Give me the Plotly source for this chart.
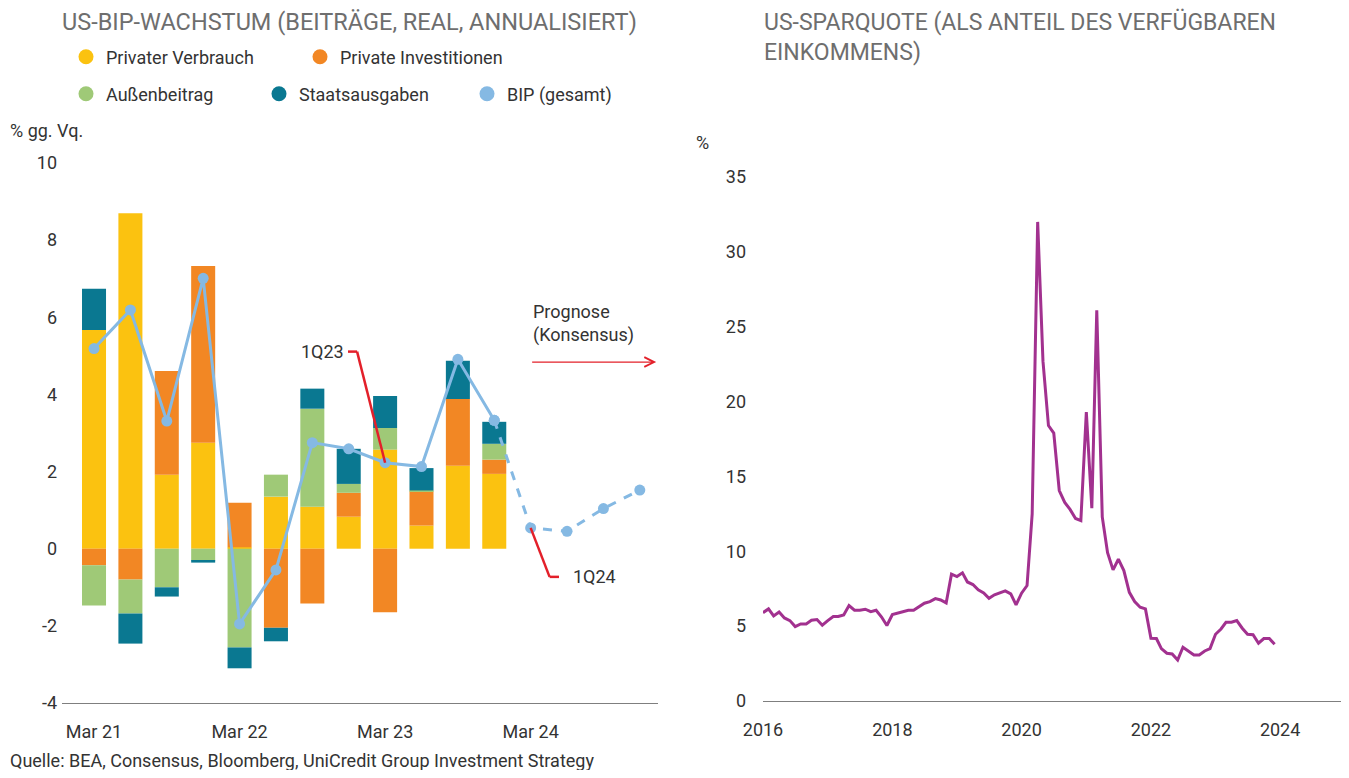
import pandas as pd
import plotly.graph_objects as go

# Seite hat 8px Rand, daher Figur etwas kleiner als das Fenster
W, H = 1349, 778
RAND = 8
FW, FH = W - 2 * RAND, H - 2 * RAND

# linke Grafik: Beiträge zum US-BIP-Wachstum (Prozentpunkte, annualisiert)
quartale = ["1Q21", "2Q21", "3Q21", "4Q21", "1Q22", "2Q22", "3Q22", "4Q22",
            "1Q23", "2Q23", "3Q23", "4Q23", "1Q24", "2Q24", "3Q24", "4Q24"]
tick_quartale = ["1Q21", "1Q22", "1Q23", "1Q24"]
tick_texte = ["Mar 21", "Mar 22", "Mar 23", "Mar 24"]
y_ticks_links = [-4, -2, 0, 2, 4, 6, 8, 10]

privater_verbrauch = [5.67, 8.70, 1.92, 2.75, 0.04, 1.35, 1.09, 0.83, 2.57, 0.60, 2.15, 1.94]
private_investitionen = [-0.43, -0.80, 2.69, 4.58, 1.15, -2.05, -1.42, 0.62, -1.65, 0.89, 1.73, 0.37]
aussenbeitrag = [-1.04, -0.88, -1.00, -0.31, -2.56, 0.57, 2.54, 0.23, 0.56, 0.02, 0.0, 0.41]
staatsausgaben = [1.07, -0.78, -0.24, -0.05, -0.54, -0.35, 0.52, 0.91, 0.83, 0.58, 0.99, 0.57]
bip_ist = [5.19, 6.19, 3.31, 7.01, -1.95, -0.55, 2.75, 2.59, 2.23, 2.13, 4.91, 3.33]
bip_prognose = [0.54, 0.45, 1.04, 1.52]

# rechte Grafik: US-Sparquote, monatlich ab Jan 2016
sparquote = [
    5.90, 6.15, 5.68, 5.95, 5.55, 5.37, 4.97, 5.15, 5.15, 5.39, 5.44, 5.06,
    5.37, 5.64, 5.64, 5.75, 6.37, 6.06, 6.06, 6.13, 5.97, 6.06, 5.61, 5.04,
    5.77, 5.86, 5.95, 6.06, 6.06, 6.30, 6.53, 6.64, 6.84, 6.75, 6.55, 8.47,
    8.31, 8.56, 7.95, 7.78, 7.42, 7.22, 6.86, 7.09, 7.24, 7.35, 7.15, 6.42,
    7.20, 7.71, 12.5, 32.0, 22.7, 18.4, 17.9, 14.06, 13.26, 12.8, 12.19, 12.05,
    19.3, 12.88, 26.1, 12.3, 9.9, 8.76, 9.47, 8.71, 7.26, 6.64, 6.26, 6.15,
    4.19, 4.17, 3.50, 3.19, 3.14, 2.74, 3.59, 3.30, 3.07, 3.07, 3.34, 3.50,
    4.46, 4.81, 5.26, 5.26, 5.37, 4.86, 4.46, 4.43, 3.86, 4.17, 4.17, 3.79,
]
monate = pd.date_range("2016-01-01", periods=len(sparquote), freq="MS")

GELB = "#fbc210"
ORANGE = "#f28724"
GRUEN = "#9fc977"
PETROL = "#0a7891"
HELLBLAU = "#85b9e3"
ROT = "#e3202a"
LILA = "#a2318f"
SCHRIFT = "Roboto"
TEXT = "#333333"
TITEL = "#6e6e6e"


def px(x):
    return min(max((x - RAND) / FW, 0), 1)


def py(y):
    return min(max(1 - (y - RAND) / FH, 0), 1)


fig = go.Figure()

balken = [("Privater Verbrauch", privater_verbrauch, GELB),
          ("Private Investitionen", private_investitionen, ORANGE),
          ("Außenbeitrag", aussenbeitrag, GRUEN),
          ("Staatsausgaben", staatsausgaben, PETROL)]
for name, werte, farbe in balken:
    fig.add_trace(go.Bar(x=quartale[:len(werte)], y=werte, name=name,
                         marker=dict(color=farbe, line_width=0),
                         showlegend=False, xaxis="x", yaxis="y"))

fig.add_trace(go.Scatter(x=quartale[:len(bip_ist)], y=bip_ist, mode="lines+markers",
                         line=dict(color=HELLBLAU, width=3),
                         marker=dict(color=HELLBLAU, size=11),
                         showlegend=False, xaxis="x", yaxis="y"))
fig.add_trace(go.Scatter(x=quartale[len(bip_ist) - 1:], y=[bip_ist[-1]] + bip_prognose,
                         mode="lines+markers",
                         line=dict(color=HELLBLAU, width=3, dash="dash"),
                         marker=dict(color=HELLBLAU, size=11),
                         showlegend=False, xaxis="x", yaxis="y"))

fig.add_trace(go.Scatter(x=monate, y=sparquote, mode="lines",
                         line=dict(color=LILA, width=3),
                         showlegend=False, xaxis="x2", yaxis="y2"))

# Legende als Kreise
legenden = [("Privater Verbrauch", GELB, "legend"),
            ("Private Investitionen", ORANGE, "legend"),
            ("Außenbeitrag", GRUEN, "legend2"),
            ("Staatsausgaben", PETROL, "legend2"),
            ("BIP (gesamt)", HELLBLAU, "legend3")]
for name, farbe, leg in legenden:
    fig.add_trace(go.Scatter(x=[None], y=[None], mode="markers", name=name,
                             marker=dict(color=farbe, size=15, symbol="circle"),
                             legend=leg, xaxis="x", yaxis="y"))

leg_font = dict(family=SCHRIFT, size=18, color=TEXT)
leg_basis = dict(orientation="h", font=leg_font, bgcolor="rgba(0,0,0,0)",
                 yanchor="middle", xanchor="left", itemclick=False,
                 entrywidthmode="pixels")

# Leitlinien für Beschriftungen
i23 = quartale.index("1Q23")
i24 = quartale.index("1Q24")
knick23 = bip_ist[i23] + 2.88
knick24 = bip_prognose[0] - 1.27
shapes = [
    dict(type="line", xref="x", yref="y", x0=i23, y0=bip_ist[i23], x1=i23 - 0.77, y1=knick23,
         line=dict(color=ROT, width=2.5)),
    dict(type="line", xref="x", yref="y", x0=i23 - 0.77, y0=knick23, x1=i23 - 1.02, y1=knick23,
         line=dict(color=ROT, width=2.5)),
    dict(type="line", xref="x", yref="y", x0=i24, y0=bip_prognose[0], x1=i24 + 0.52, y1=knick24,
         line=dict(color=ROT, width=2.5)),
    dict(type="line", xref="x", yref="y", x0=i24 + 0.52, y0=knick24, x1=i24 + 0.78, y1=knick24,
         line=dict(color=ROT, width=2.5)),
]

ann = [
    dict(text="US-BIP-WACHSTUM (BEITRÄGE, REAL, ANNUALISIERT)", x=px(60), y=py(22),
         xref="paper", yref="paper", xanchor="left", yanchor="middle", showarrow=False,
         font=dict(family=SCHRIFT, size=23.5, color=TITEL)),
    dict(text="US-SPARQUOTE (ALS ANTEIL DES VERFÜGBAREN<br>EINKOMMENS)", x=px(762), y=py(37),
         xref="paper", yref="paper", xanchor="left", yanchor="middle", align="left",
         showarrow=False, font=dict(family=SCHRIFT, size=23, color=TITEL)),
    dict(text="% gg. Vq.", x=px(8), y=py(130), xref="paper", yref="paper",
         xanchor="left", yanchor="middle", showarrow=False, font=leg_font),
    dict(text="%", x=px(703), y=py(142), xref="paper", yref="paper",
         xanchor="center", yanchor="middle", showarrow=False, font=leg_font),
    dict(text="Quelle: BEA, Consensus, Bloomberg, UniCredit Group Investment Strategy",
         x=px(8), y=py(760), xref="paper", yref="paper", xanchor="left", yanchor="middle",
         showarrow=False, font=dict(family=SCHRIFT, size=18, color=TEXT)),
    dict(text="1Q23", x=i23 - 1.08, y=knick23, xref="x", yref="y", xanchor="right",
         yanchor="middle", showarrow=False, font=leg_font),
    dict(text="1Q24", x=i24 + 1.12, y=knick24, xref="x", yref="y", xanchor="left",
         yanchor="middle", showarrow=False, font=leg_font),
    dict(text="Prognose<br>(Konsensus)", x=i24, y=5.2, xref="x", yref="y", xanchor="left",
         yanchor="bottom", align="left", showarrow=False, font=leg_font),
    dict(text="", x=15.45, y=4.84, ax=i24, ay=4.84, xref="x", yref="y", axref="x", ayref="y",
         showarrow=True, arrowhead=5, arrowsize=1.6, arrowwidth=1.2, arrowcolor=ROT),
]

achse = dict(showgrid=False, zeroline=False, ticks="", automargin=False,
             tickfont=dict(family=SCHRIFT, size=18, color=TEXT))

fig.update_layout(
    width=FW, height=FH,
    margin=dict(l=0, r=0, t=0, b=0, autoexpand=False),
    paper_bgcolor="white", plot_bgcolor="white",
    barmode="relative", bargap=0.34,
    font=dict(family=SCHRIFT, color=TEXT),
    xaxis=dict(achse, domain=[px(62), px(658)], anchor="y", type="category",
               categoryorder="array", categoryarray=quartale,
               range=[-0.88, 15.5], tickvals=tick_quartale, ticktext=tick_texte,
               showline=True, linecolor="#7f7f7f", linewidth=1.2, ticklabelstandoff=12),
    yaxis=dict(achse, domain=[py(703), py(163)], anchor="x", range=[-4, 10],
               tickvals=y_ticks_links, ticktext=[str(v) for v in y_ticks_links],
               showline=False, ticklabelstandoff=4),
    xaxis2=dict(achse, domain=[px(763), px(1341)], anchor="y2", type="date",
                range=["2016-01-01", "2024-12-10"], dtick="M24", tick0="2016-01-01",
                tickformat="%Y", showline=True, linecolor="#7f7f7f", linewidth=1.2,
                ticklabelstandoff=12),
    yaxis2=dict(achse, domain=[py(701), py(177)], anchor="x2", range=[0, 35],
                tickvals=list(range(0, 36, 5)), showline=False, ticklabelstandoff=16),
    legend=dict(leg_basis, x=px(66), y=py(57), entrywidth=189),
    legend2=dict(leg_basis, x=px(66), y=py(94), entrywidth=148),
    legend3=dict(leg_basis, x=px(467), y=py(94)),
    shapes=shapes,
    annotations=ann,
)

fig.write_html("out.html")
